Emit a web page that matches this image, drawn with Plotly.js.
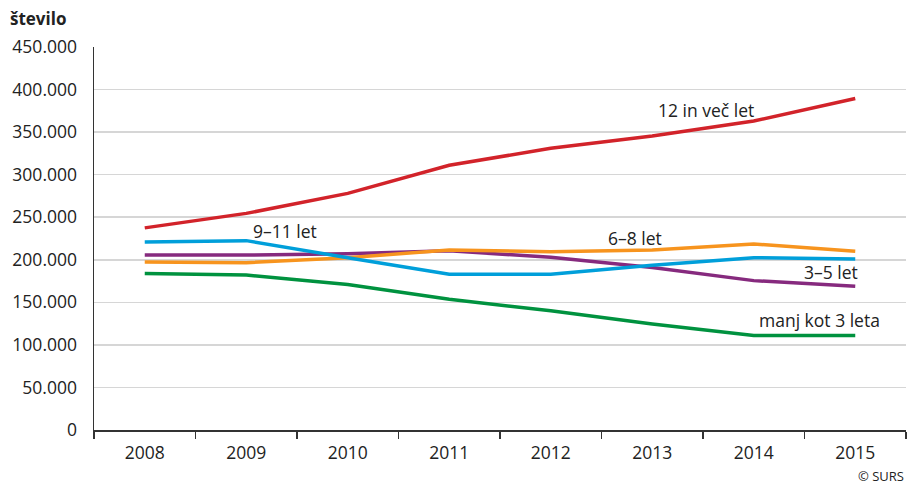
<!DOCTYPE html>
<html>
<head>
<meta charset="utf-8">
<script src="https://cdn.plot.ly/plotly-3.0.1.min.js"></script>
<style>html,body{margin:0;padding:0;background:#fff;}#chart{width:908px;height:487px;}</style>
</head>
<body>
<div id="chart"></div>
<script>
const years = ["2008","2009","2010","2011","2012","2013","2014","2015"];
const names = ["manj kot 3 leta","3–5 let","6–8 let","9–11 let","12 in več let"];
const under3 = [184000,182000,171000,153500,140000,124500,111000,111000];
const age3to5 = [205500,205500,207000,210500,203000,191000,175500,169000];
const age6to8 = [197500,196500,202500,211500,209500,211500,218500,210000];
const age9to11 = [221000,222500,202500,183000,183000,193500,202500,201000];
const age12plus = [237500,254500,278000,311000,331000,345500,363000,389500];
const colors = ["#00923f","#862a7e","#f7941e","#009fda","#d2232a"];
const series = [under3, age3to5, age6to8, age9to11, age12plus];

const traces = series.map((s,i)=>({
  type:'scatter', mode:'lines', x:years, y:s, name:names[i],
  line:{color:colors[i], width:3.5}, hoverinfo:'skip'
}));

const font = "'Open Sans', sans-serif";
const txt = "#222";
function px2x(p){return (p-94)/812;}
function px2y(p){return (430-p)/383.3;}

const layout = {
  width:908, height:487,
  margin:{l:94, r:2, t:46.7, b:57, pad:0},
  paper_bgcolor:'#fff', plot_bgcolor:'#fff',
  separators:',.',
  showlegend:false,
  font:{family:font, size:18, color:txt},
  xaxis:{
    type:'category', range:[-0.5,7.5], tickson:'boundaries', ticks:'outside', ticklen:7, tickwidth:1.5, tickcolor:'#333',
    ticklabelstandoff:6,
    showline:true, linecolor:'#333', linewidth:1.5, showgrid:false, zeroline:false,
    tickfont:{family:font, size:17.5, color:txt}, fixedrange:true
  },
  yaxis:{
    range:[0,450000], dtick:50000, tickformat:',d', ticks:'', ticklabelstandoff:12,
    showline:true, linecolor:'#333', linewidth:1.5, gridcolor:'#d6d6d6', gridwidth:1.5, zeroline:false,
    tickfont:{family:font, size:17.5, color:txt}, fixedrange:true
  },
  annotations:[
    {text:names[4], x:px2x(706), y:px2y(109.3)},
    {text:names[3], x:px2x(284.5), y:px2y(230.7)},
    {text:names[2], x:px2x(634.5), y:px2y(237.7)},
    {text:names[1], x:px2x(830.7), y:px2y(272.3)},
    {text:names[0], x:px2x(819), y:px2y(320)}
  ].map(a=>Object.assign({xref:'paper', yref:'paper', showarrow:false, xanchor:'center', yanchor:'middle', font:{family:font, size:17.5, color:txt}}, a)).concat([
    {text:'<b>število</b>', xref:'paper', yref:'paper', x:px2x(8), y:px2y(18.3), xanchor:'left', yanchor:'middle', showarrow:false, font:{family:font, size:17, color:txt}},
    {text:'© SURS', xref:'paper', yref:'paper', x:px2x(906), y:px2y(476), xanchor:'right', yanchor:'middle', showarrow:false, font:{family:font, size:13, color:txt}}
  ])
};

Plotly.newPlot('chart', traces, layout, {displayModeBar:false, staticPlot:true});
</script>
</body>
</html>
